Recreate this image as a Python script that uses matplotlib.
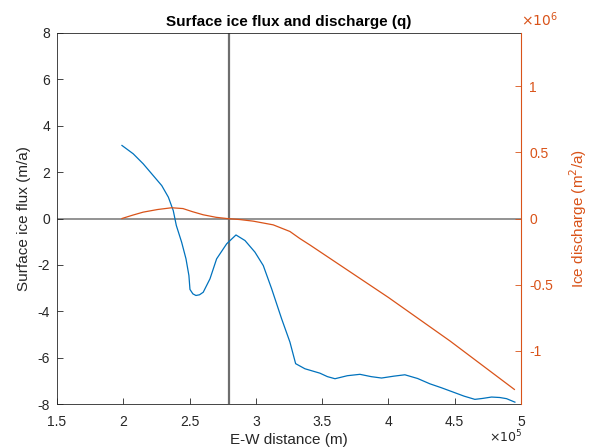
import matplotlib
matplotlib.use("Agg")
import matplotlib.pyplot as plt
from matplotlib.ticker import FuncFormatter, FixedLocator

plt.rcParams['font.family'] = ['Liberation Sans', 'DejaVu Sans']

# Surface ice flux (m/a), x in metres
flux_x = [1.99e5, 2.075e5, 2.15e5, 2.226e5, 2.29e5, 2.34e5, 2.377e5, 2.40e5, 2.44e5,
          2.473e5, 2.495e5, 2.503e5, 2.525e5, 2.548e5, 2.575e5, 2.603e5, 2.654e5,
          2.704e5, 2.78e5, 2.85e5, 2.918e5, 2.993e5, 3.056e5, 3.119e5, 3.194e5,
          3.257e5, 3.30e5, 3.37e5, 3.483e5, 3.54e5, 3.597e5, 3.69e5, 3.785e5,
          3.87e5, 3.948e5, 4.04e5, 4.124e5, 4.22e5, 4.313e5, 4.40e5, 4.49e5,
          4.57e5, 4.652e5, 4.71e5, 4.778e5, 4.84e5, 4.891e5, 4.954e5]
flux_y = [3.15, 2.79, 2.36, 1.85, 1.42, 0.92, 0.34, -0.30, -1.02,
          -1.74, -2.46, -3.06, -3.25, -3.32, -3.29, -3.18, -2.60,
          -1.74, -1.09, -0.71, -0.95, -1.45, -2.03, -3.03, -4.32,
          -5.33, -6.26, -6.48, -6.67, -6.82, -6.91, -6.78, -6.72,
          -6.82, -6.88, -6.80, -6.74, -6.90, -7.13, -7.30, -7.49,
          -7.66, -7.80, -7.76, -7.70, -7.72, -7.77, -7.92]

# Ice discharge (m^2/a)
q_x = [1.99e5, 2.07e5, 2.15e5, 2.26e5, 2.365e5, 2.45e5, 2.52e5, 2.603e5, 2.70e5,
       2.78e5, 2.88e5, 2.98e5, 3.131e5, 3.257e5, 3.33e5, 3.408e5, 4.0e5, 4.464e5, 4.95e5]
q_y = [0.0, 0.025e6, 0.048e6, 0.068e6, 0.081e6, 0.075e6, 0.052e6, 0.028e6, 0.009e6,
       0.0, -0.008e6, -0.02e6, -0.048e6, -0.098e6, -0.15e6, -0.20e6, -0.596e6, -0.924e6, -1.29e6]

x_ticks = [1.5e5, 2.0e5, 2.5e5, 3.0e5, 3.5e5, 4.0e5, 4.5e5, 5.0e5]
left_ticks = [-8, -6, -4, -2, 0, 2, 4, 6, 8]
right_ticks = [-1e6, -0.5e6, 0, 0.5e6, 1e6]
vline_x = 2.8e5

blue = '#0072BD'
orange = '#D95319'
dark = '#262626'

fig = plt.figure(figsize=(6.03, 4.47), dpi=100)
ax = fig.add_axes([57/603, 43/447, 464/603, 371/447])
ax.plot(flux_x, flux_y, color=blue, lw=0.9)
ax.axhline(0, color='#808080', lw=1.2, zorder=1)
ax.axvline(vline_x, color='#6e6e6e', lw=1.6, zorder=1)
ax.set_xlim(1.5e5, 5e5)
ax.set_ylim(-8, 8)
ax.xaxis.set_major_locator(FixedLocator(x_ticks))
ax.yaxis.set_major_locator(FixedLocator(left_ticks))
ax.xaxis.set_major_formatter(FuncFormatter(lambda v, p: f"{v/1e5:g}"))
ax.yaxis.set_major_formatter(FuncFormatter(lambda v, p: f"{v:g}"))
ax.tick_params(direction='in', length=4, labelsize=10, colors=dark, width=0.6)
ax.tick_params(axis='x', pad=8)
ax.tick_params(axis='y', pad=5)
for s in ['left', 'bottom', 'top']:
    ax.spines[s].set_color(dark)
    ax.spines[s].set_linewidth(0.6)
ax.spines['right'].set_visible(False)
ax.set_xlabel('E-W distance (m)', fontsize=11, color=dark, labelpad=3)
ax.set_ylabel('Surface ice flux (m/a)', fontsize=11, color=dark, labelpad=5)
ax.set_title('Surface ice flux and discharge (q)', fontsize=11, fontweight='bold', color='black', pad=5)
ax.text(1.003, -0.088, r'$\times 10^5$', transform=ax.transAxes, ha='right', va='center',
        fontsize=9, color=dark)

ax2 = ax.twinx()
ax2.plot(q_x, q_y, color=orange, lw=0.9)
ax2.set_ylim(-1.4e6, 1.4e6)
ax2.yaxis.set_major_locator(FixedLocator(right_ticks))
ax2.yaxis.set_major_formatter(FuncFormatter(lambda v, p: f"{v/1e6:g}"))
ax2.tick_params(direction='in', length=4, labelsize=10, colors=orange, width=0.6, pad=6)
for s in ['left', 'bottom', 'top']:
    ax2.spines[s].set_visible(False)
ax2.spines['right'].set_color(orange)
ax2.spines['right'].set_linewidth(0.8)
ax2.set_ylabel('Ice discharge (m$^2$/a)', fontsize=11, color=orange, labelpad=10)
ax2.text(1.0, 1.01, r'$\times 10^6$', transform=ax2.transAxes, ha='left', va='bottom',
         fontsize=10, color=orange)

fig.savefig('out.png', dpi=100)
